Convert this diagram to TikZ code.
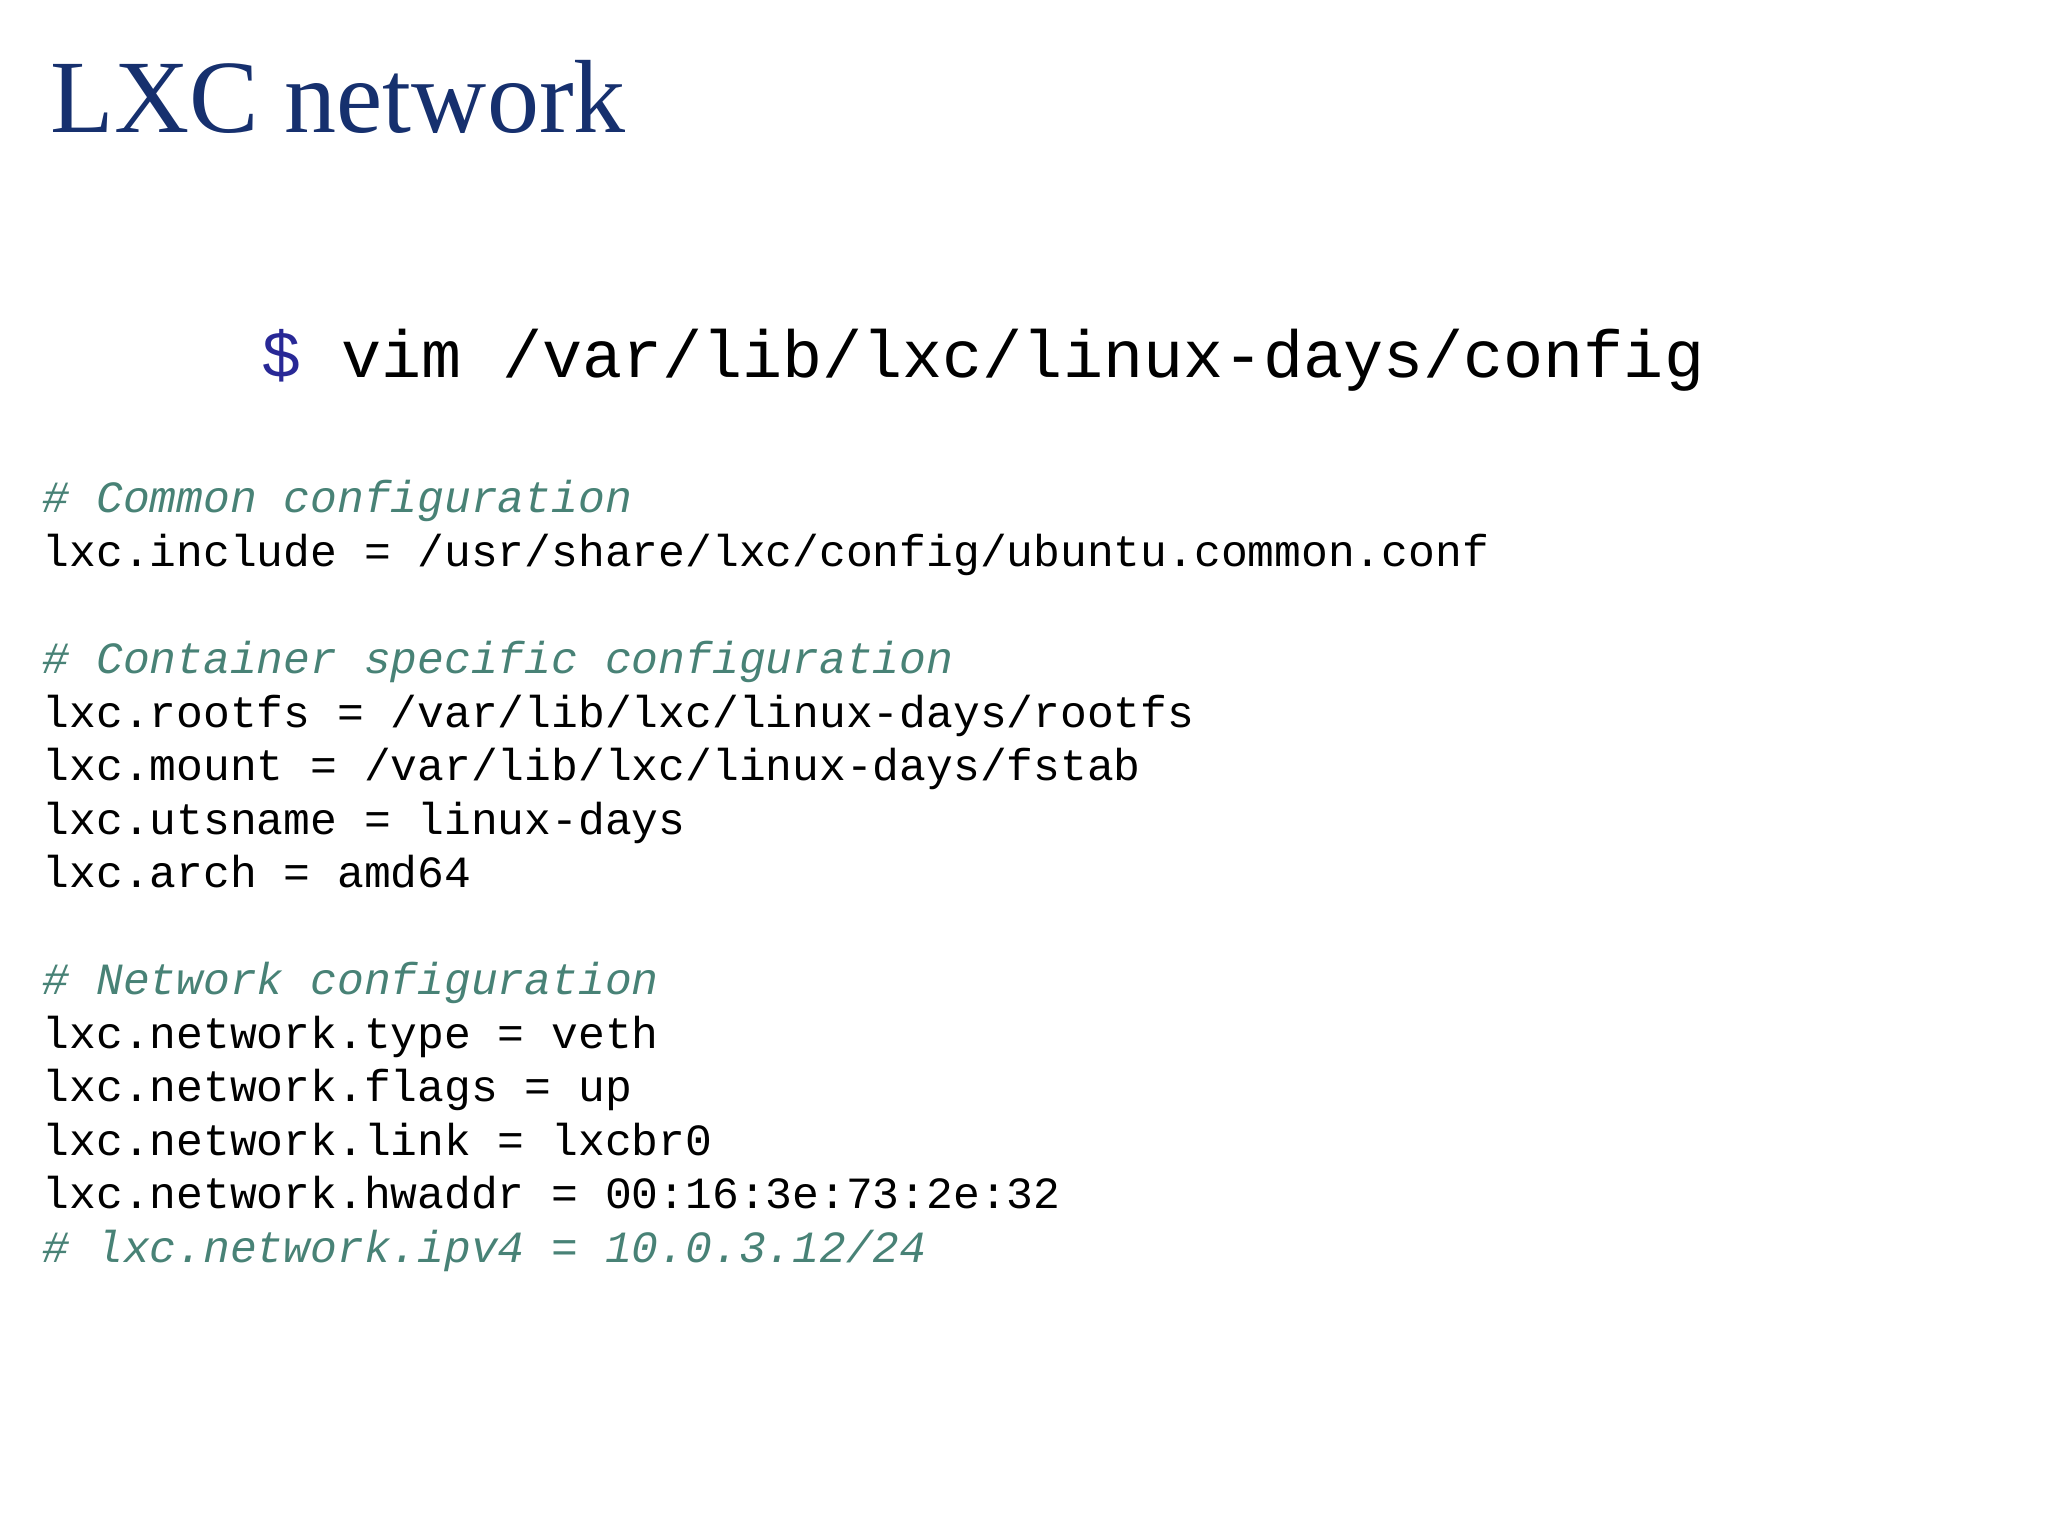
\documentclass[tikz,border=0pt]{standalone}
\usepackage{fontspec}
\setmainfont{Liberation Serif}
\setmonofont{Liberation Mono}
\definecolor{titleblue}{RGB}{22,48,110}
\definecolor{commentgreen}{RGB}{72,130,118}
\definecolor{promptblue}{RGB}{40,40,150}
\begin{document}
\begin{tikzpicture}[
    codeline/.style={anchor=base west, inner sep=0pt, font=\fontsize{12.7}{15}\selectfont\ttfamily},
    comment/.style={codeline, text=commentgreen, font=\fontsize{12.7}{15}\selectfont\ttfamily\itshape}
  ]
  % page
  \useasboundingbox (0,0) rectangle (20.48,-15.36);

  % title
  \node[anchor=base west, inner sep=0pt, text=titleblue, font=\fontsize{29.6}{34}\selectfont] (title) at (0.50,-1.33) {LXC network};

  % command
  \node[anchor=base west, inner sep=0pt, font=\fontsize{19}{22}\selectfont\ttfamily] (cmd) at (2.61,-3.78)
    {\textcolor{promptblue}{\$} vim /var/lib/lxc/linux-days/config};

  % config file
  \def\ls{0.535}
  \node[comment]  (common)  at (0.42,{-5.13-0*\ls})  {\# Common configuration};
  \node[codeline] (include) at (0.42,{-5.13-1*\ls})  {lxc.include = /usr/share/lxc/config/ubuntu.common.conf};
  \node[comment]  (spec)    at (0.42,{-5.13-3*\ls})  {\# Container specific configuration};
  \node[codeline] (rootfs)  at (0.42,{-5.13-4*\ls})  {lxc.rootfs = /var/lib/lxc/linux-days/rootfs};
  \node[codeline] (mount)   at (0.42,{-5.13-5*\ls})  {lxc.mount = /var/lib/lxc/linux-days/fstab};
  \node[codeline] (uts)     at (0.42,{-5.13-6*\ls})  {lxc.utsname = linux-days};
  \node[codeline] (arch)    at (0.42,{-5.13-7*\ls})  {lxc.arch = amd64};
  \node[comment]  (net)     at (0.42,{-5.13-9*\ls})  {\# Network configuration};
  \node[codeline] (type)    at (0.42,{-5.13-10*\ls}) {lxc.network.type = veth};
  \node[codeline] (flags)   at (0.42,{-5.13-11*\ls}) {lxc.network.flags = up};
  \node[codeline] (link)    at (0.42,{-5.13-12*\ls}) {lxc.network.link = lxcbr0};
  \node[codeline] (hwaddr)  at (0.42,{-5.13-13*\ls}) {lxc.network.hwaddr = 00:16:3e:73:2e:32};
  \node[comment]  (ipv4)    at (0.42,{-5.13-14*\ls}) {\# lxc.network.ipv4 = 10.0.3.12/24};
\end{tikzpicture}
\end{document}
